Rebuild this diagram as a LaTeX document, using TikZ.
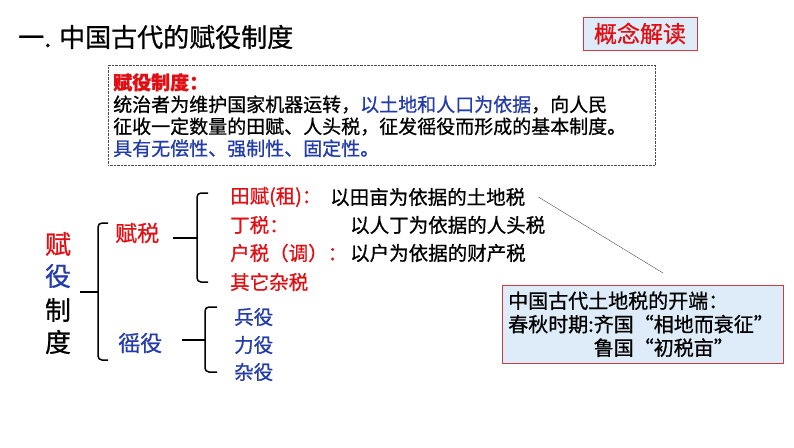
\documentclass[tikz,border=0pt]{standalone}
\usepackage{fontspec}
\setmainfont{Noto Sans CJK SC}[FakeBold=0.8]
\definecolor{fyred}{RGB}{225,15,20}
\definecolor{fyblue}{RGB}{35,60,170}
\definecolor{boxblue}{RGB}{221,236,248}
\definecolor{boxedge}{RGB}{200,60,70}
\tikzset{
	txt/.style={inner sep=0pt, anchor=west},
	big/.style={inner sep=0pt, font=\fontsize{26}{30}\selectfont},
	item/.style={txt, font=\fontsize{19.5}{22}\selectfont},
	brace/.style={line width=1.5pt, rounded corners=4pt}
}
\begin{document}
\begin{tikzpicture}[x=1pt, y=-1pt]
	\useasboundingbox (0, 0) rectangle (794, 447);
	
	\node (title) [txt, font=\fontsize{26}{30}\selectfont] at (18, 37) {一. 中国古代的赋役制度};
	\node (gainian) [draw=boxedge, fill=boxblue, text=fyred, inner sep=0pt, minimum width=114, minimum height=33, font=\fontsize{23}{26}\selectfont] at (640, 33.5) {概念解读};
	
	\node (dingyi) [draw=gray!60!black, densely dotted, anchor=north west, minimum width=547, minimum height=100, text width=537pt, inner xsep=5pt, inner ysep=0pt, align=left, font=\fontsize{19}{22}\selectfont] at (108, 65) {\textcolor{fyred}{\bfseries 赋役制度：}\\统治者为维护国家机器运转，\textcolor{fyblue}{以土地和人口为依据}，向人民\\征收一定数量的田赋、人头税，征发徭役而形成的基本制度。\\\textcolor{fyblue}{具有无偿性、强制性、固定性。}};
	
	% left column
	\node (fu) [big, text=fyred] at (58, 244) {赋};
	\node (yi) [big, text=fyblue] at (58, 276) {役};
	\node (zhi) [big] at (58, 310) {制};
	\node (du) [big] at (58, 342) {度};
	
	\node (fushui) [txt, text=fyred, font=\fontsize{22}{26}\selectfont] at (115, 233) {赋税};
	\node (yaoyi) [txt, text=fyblue, font=\fontsize{22}{26}\selectfont] at (118, 343) {徭役};
	
	% taxes
	\node (tianfu) [item, text=fyred] at (230, 197) {田赋(租)：};
	\node (tiandesc) [item] at (330, 197) {以田亩为依据的土地税};
	\node (dingshui) [item, text=fyred] at (230, 225) {丁税：};
	\node (dingdesc) [item] at (350, 225) {以人丁为依据的人头税};
	\node (hushui) [item, text=fyred] at (230, 253) {户税（调）：};
	\node (hudesc) [item] at (350, 253) {以户为依据的财产税};
	\node (zashui) [item, text=fyred] at (230, 282) {其它杂税};
	
	% labour
	\node (bingyi) [item, text=fyblue] at (234, 317) {兵役};
	\node (liyi) [item, text=fyblue] at (234, 345) {力役};
	\node (zayi) [item, text=fyblue] at (234, 372) {杂役};
	
	% braces
	\coordinate (z1) at (80, 292);
	\coordinate (z1t) at (108, 223);
	\coordinate (z1b) at (108, 360);
	\draw[brace] (z1t) -- ++(-10, 0) |- (z1b);
	\draw[brace] (z1) -- ++(18, 0);
	
	\coordinate (z2) at (173, 238);
	\coordinate (z2t) at (208, 193);
	\coordinate (z2b) at (208, 282);
	\draw[brace] (z2t) -- ++(-11, 0) |- (z2b);
	\draw[brace] (z2) -- ++(24, 0);
	
	\coordinate (z3) at (182, 340);
	\coordinate (z3t) at (217, 307);
	\coordinate (z3b) at (217, 372);
	\draw[brace] (z3t) -- ++(-12, 0) |- (z3b);
	\draw[brace] (z3) -- ++(23, 0);
	
	% note
	\node (kaiduan) [draw=boxedge, fill=boxblue, anchor=north west, minimum width=281, minimum height=78, text width=269pt, inner xsep=6pt, inner ysep=0pt, align=left, font=\fontsize{20}{23.5}\selectfont] at (502, 285) {中国古代土地税的开端：\\春秋时期:齐国“相地而衰征”\\\phantom{春秋时期:}鲁国“初税亩”};
	\coordinate (jieEnd) at (663, 273);
	\draw[gray!60!black, thin] ([xshift=13pt]tiandesc.east) -- (jieEnd);
	
\end{tikzpicture}
\end{document}
